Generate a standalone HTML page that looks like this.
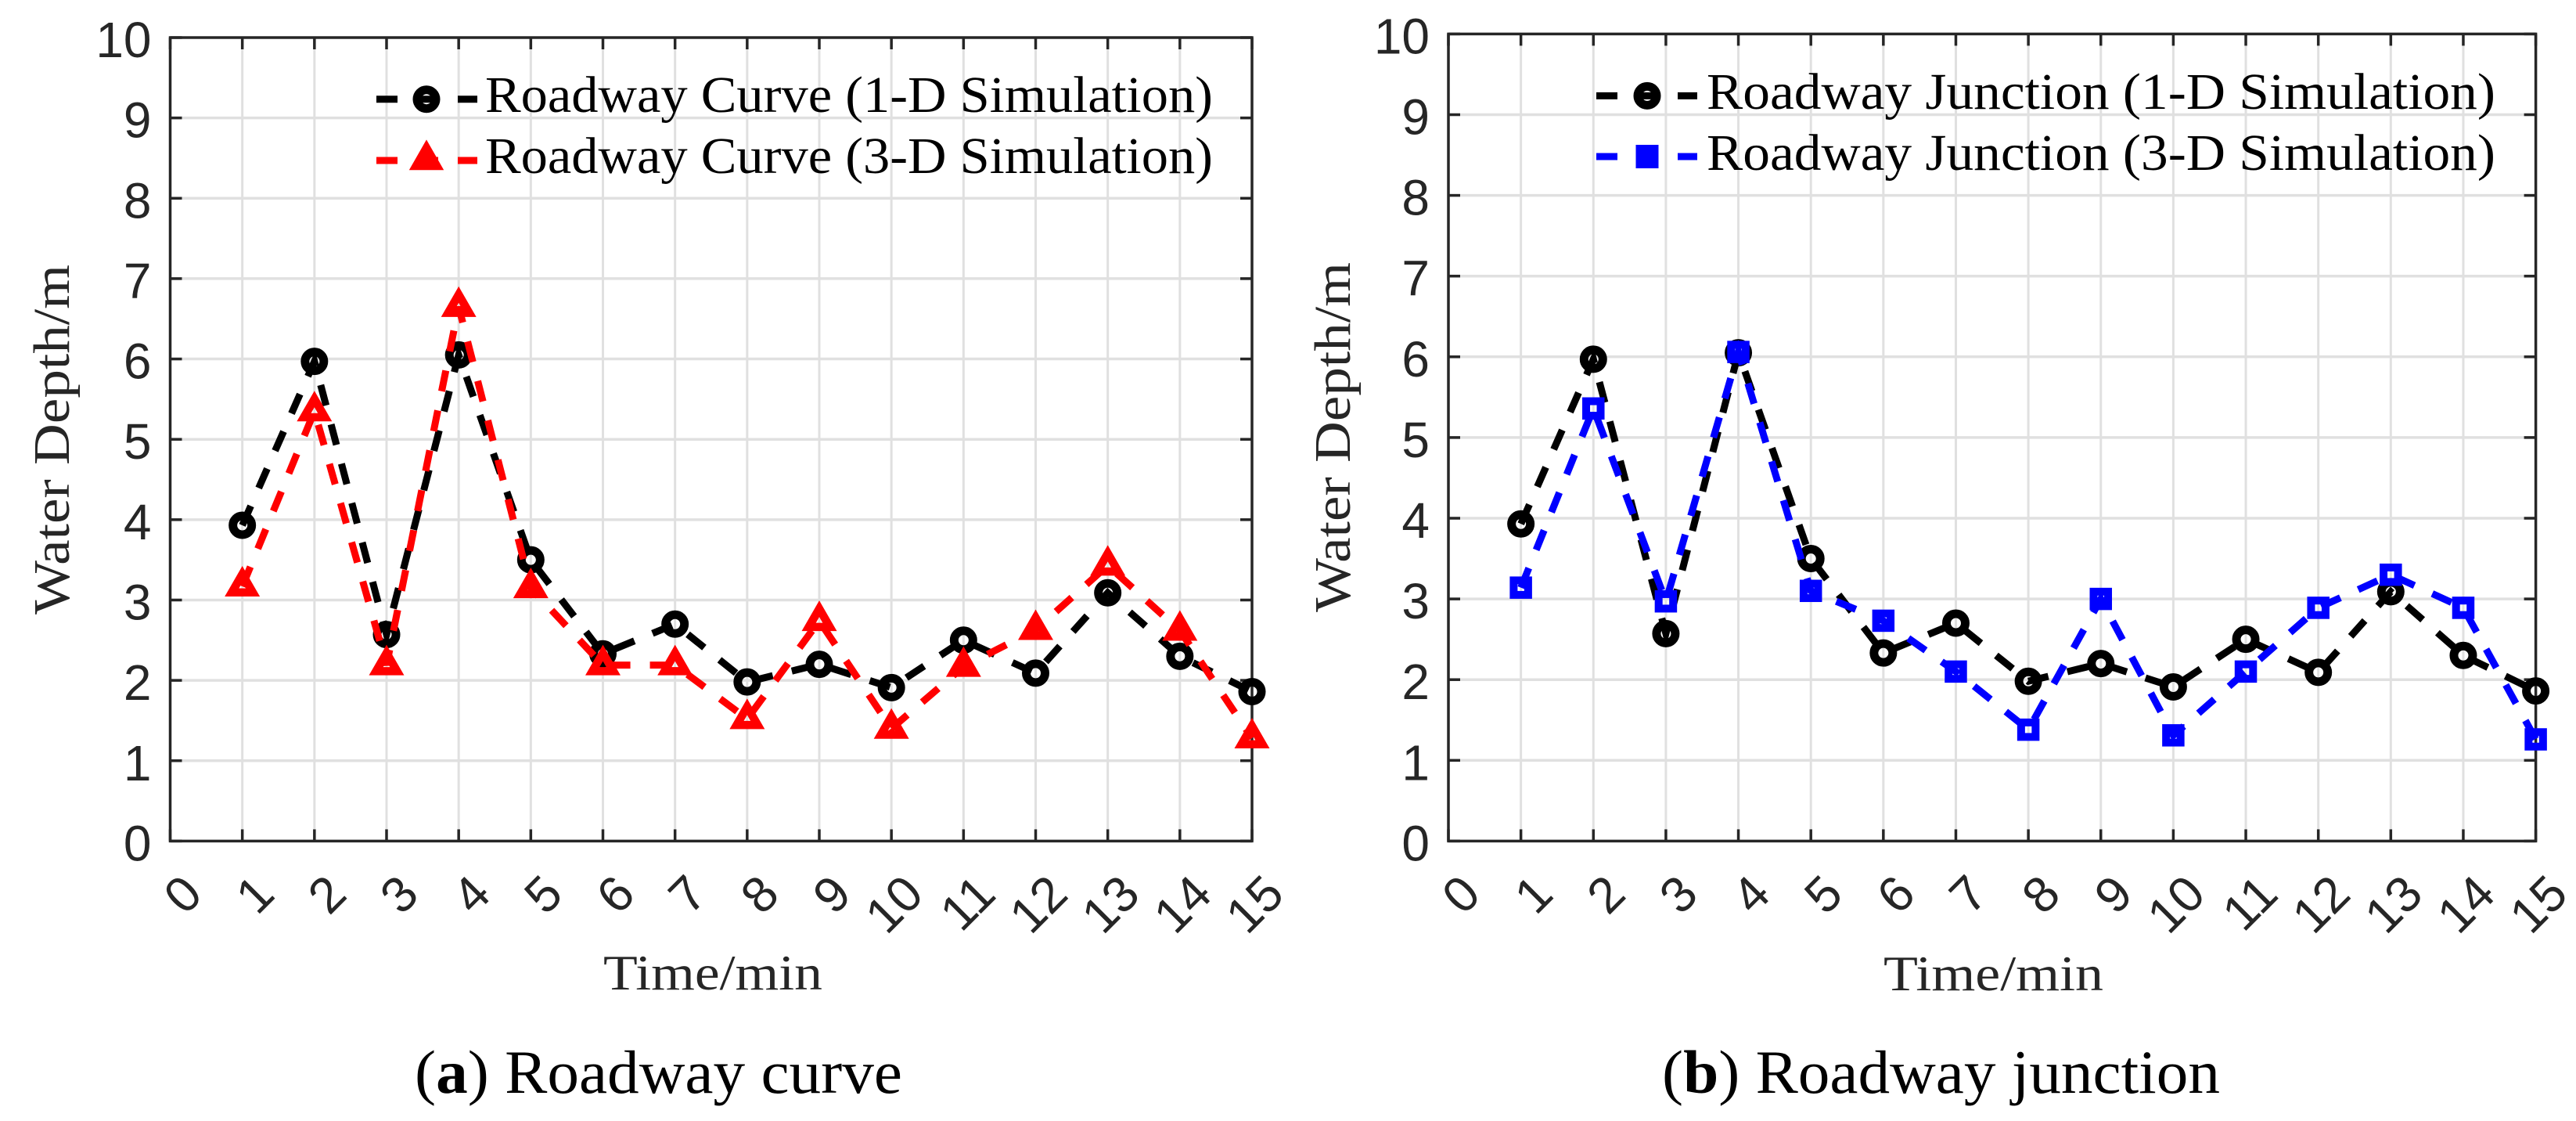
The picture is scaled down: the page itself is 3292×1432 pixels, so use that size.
<!DOCTYPE html>
<html lang="en">
<head>
<meta charset="utf-8">
<title>Water depth over time: roadway curve and roadway junction</title>
<style>
html,body{margin:0;padding:0;background:#fff;}
svg{display:block;}
.tick{font-family:"Liberation Sans",Arial,sans-serif;font-size:64px;fill:#262626;}
.lab{font-family:"Liberation Serif","Times New Roman",serif;fill:#262626;}
.leg{font-family:"Liberation Serif","Times New Roman",serif;font-size:66px;fill:#000;}
.cap{font-family:"Liberation Serif","Times New Roman",serif;font-size:78px;fill:#000;}
</style>
</head>
<body>
<svg id="fig" xmlns="http://www.w3.org/2000/svg" width="3292" height="1432" viewBox="0 0 3292 1432">
  <rect width="3292" height="1432" fill="#fff"/>
  <g id="panel-a"></g>
  <g id="panel-b"></g>

  <g>
    <g>
      <line x1="481" x2="610" y1="126.7" y2="126.7" stroke="#000" stroke-width="9" stroke-dasharray="27 25"/>
      <circle cx="545" cy="126.7" r="12" fill="none" stroke="#000" stroke-width="11"/>
      <text class="leg" x="620" y="143" textLength="930" lengthAdjust="spacingAndGlyphs">Roadway Curve (1-D Simulation)</text>
    </g>
    <g>
      <line x1="481" x2="610" y1="205" y2="205" stroke="#f00" stroke-width="9" stroke-dasharray="27 25"/>
      <polygon points="545,190 557.300,211.500 532.700,211.500" fill="none" stroke="#f00" stroke-width="11.500"/>
      <text class="leg" x="620" y="221" textLength="930" lengthAdjust="spacingAndGlyphs">Roadway Curve (3-D Simulation)</text>
    </g>
  </g>

  <g>
    <g>
      <line x1="2040" x2="2169" y1="122.400" y2="122.400" stroke="#000" stroke-width="9" stroke-dasharray="27 25"/>
      <circle cx="2105" cy="122.400" r="12" fill="none" stroke="#000" stroke-width="11"/>
      <text class="leg" x="2181" y="139" textLength="1008" lengthAdjust="spacingAndGlyphs">Roadway Junction (1-D Simulation)</text>
    </g>
    <g>
      <line x1="2040" x2="2169" y1="200" y2="200" stroke="#00f" stroke-width="9" stroke-dasharray="27 25"/>
      <rect x="2096.500" y="191" width="17" height="18" fill="none" stroke="#00f" stroke-width="12"/>
      <text class="leg" x="2181" y="217" textLength="1008" lengthAdjust="spacingAndGlyphs">Roadway Junction (3-D Simulation)</text>
    </g>
  </g>

  <text class="lab" font-size="66" transform="translate(88,785) rotate(-90)" textLength="447" lengthAdjust="spacingAndGlyphs">Water Depth/m</text>
  <text class="lab" font-size="66" transform="translate(1725,782) rotate(-90)" textLength="447" lengthAdjust="spacingAndGlyphs">Water Depth/m</text>
  <text class="lab" font-size="64" x="771" y="1264" textLength="280" lengthAdjust="spacingAndGlyphs">Time/min</text>
  <text class="lab" font-size="64" x="2407" y="1265" textLength="281" lengthAdjust="spacingAndGlyphs">Time/min</text>
  <text class="cap" x="530" y="1396" textLength="623" lengthAdjust="spacingAndGlyphs">(<tspan font-weight="bold">a</tspan>) Roadway curve</text>
  <text class="cap" x="2124" y="1396" textLength="713" lengthAdjust="spacingAndGlyphs">(<tspan font-weight="bold">b</tspan>) Roadway junction</text>
</svg>
<script>
// Chart data
const xTickLabels = ["0","1","2","3","4","5","6","7","8","9","10","11","12","13","14","15"];
const yTickLabels = ["0","1","2","3","4","5","6","7","8","9","10"];
const times = [1,2,3,4,5,6,7,8,9,10,11,12,13,14,15];
const depth1D = [3.93,5.97,2.57,6.05,3.50,2.33,2.70,1.98,2.20,1.91,2.50,2.09,3.09,2.30,1.86];
const curve3D = [3.17,5.35,2.19,6.65,3.15,2.19,2.19,1.52,2.74,1.40,2.17,2.63,3.43,2.62,1.28];
const junction3D = [3.14,5.36,2.97,6.06,3.10,2.73,2.10,1.38,3.00,1.31,2.10,2.89,3.30,2.89,1.26];

const NS = "http://www.w3.org/2000/svg";
function make(tag, attrs, parent) {
  const node = document.createElementNS(NS, tag);
  for (const key in attrs) node.setAttribute(key, attrs[key]);
  parent.appendChild(node);
  return node;
}

function drawPanel(parent, box, series3D, color, markerType, prefix) {
  const xMin = Number(xTickLabels[0]);
  const xMax = Number(xTickLabels[xTickLabels.length - 1]);
  const yMin = Number(yTickLabels[0]);
  const yMax = Number(yTickLabels[yTickLabels.length - 1]);
  const xScale = v => box.left + (v - xMin) / (xMax - xMin) * (box.right - box.left);
  const yScale = v => box.bottom - (v - yMin) / (yMax - yMin) * (box.bottom - box.top);
  const axisColor = "#262626";

  const grid = make("g", {}, parent);
  
  
  xTickLabels.forEach(function (label) {
    const v = Number(label);
    if (v === xMin || v === xMax) return;
    const line = make("line", {x1: xScale(v), x2: xScale(v), y1: box.top, y2: box.bottom, stroke: "#e0e0e0", "stroke-width": 3}, grid);
    
    
  });
  yTickLabels.forEach(function (label) {
    const v = Number(label);
    if (v === yMin || v === yMax) return;
    const line = make("line", {x1: box.left, x2: box.right, y1: yScale(v), y2: yScale(v), stroke: "#e0e0e0", "stroke-width": 3.5}, grid);
    
    
  });

  const ticks = make("g", {stroke: axisColor, "stroke-width": 3.5}, parent);
  
  
  xTickLabels.forEach(function (label) {
    const x = xScale(Number(label));
    const bottomTick = make("line", {x1: x, x2: x, y1: box.bottom, y2: box.bottom - 15}, ticks);
    
    
    const topTick = make("line", {x1: x, x2: x, y1: box.top, y2: box.top + 15}, ticks);
    
    
    const text = make("text", {"class": "tick", "text-anchor": "end", stroke: "none",
      transform: "translate(" + (x + 44) + "," + (box.bottom + 71) + ") rotate(-45)"}, parent);
    
    
    text.textContent = label;
  });
  yTickLabels.forEach(function (label) {
    const y = yScale(Number(label));
    const leftTick = make("line", {x1: box.left, x2: box.left + 15, y1: y, y2: y}, ticks);
    
    
    const rightTick = make("line", {x1: box.right, x2: box.right - 15, y1: y, y2: y}, ticks);
    
    
    const text = make("text", {"class": "tick", "text-anchor": "end", x: box.left - 24, y: y + 25}, parent);
    
    
    text.textContent = label;
  });

  const frame = make("rect", {x: box.left, y: box.top, width: box.right - box.left, height: box.bottom - box.top,
    fill: "none", stroke: axisColor, "stroke-width": 3.5}, parent);
  
  

  function drawSeries(values, stroke, type, name) {
    const group = make("g", {}, parent);
    
    
    const pts = values.map((v, i) => xScale(times[i]) + "," + yScale(v)).join(" ");
    const line = make("polyline", {points: pts, fill: "none", stroke: stroke, "stroke-width": 9,
      "stroke-dasharray": "27 25", "stroke-linejoin": "miter"}, group);
    
    
    values.forEach(function (v, i) {
      const cx = xScale(times[i]);
      const cy = yScale(v);
      let mark;
      if (type === "circle") {
        mark = make("circle", {cx: cx, cy: cy, r: 12, fill: "none", stroke: stroke, "stroke-width": 11}, group);
      } else if (type === "triangle") {
        mark = make("polygon", {points: cx + "," + (cy - 15.5) + " " + (cx + 13.4) + "," + (cy + 7.75) + " " + (cx - 13.4) + "," + (cy + 7.75),
          fill: "none", stroke: stroke, "stroke-width": 10.5}, group);
      } else {
        mark = make("rect", {x: cx - 9.25, y: cy - 9.25, width: 18.5, height: 18.5, fill: "none", stroke: stroke, "stroke-width": 10}, group);
      }
      
      
    });
  }
  drawSeries(depth1D, "#000", "circle", prefix + "-1d");
  drawSeries(series3D, color, markerType, prefix + "-3d");
}

drawPanel(document.getElementById("panel-a"), {left: 217.5, right: 1600, top: 48, bottom: 1074.4}, curve3D, "#f00", "triangle", "curve");
drawPanel(document.getElementById("panel-b"), {left: 1851, right: 3240.6, top: 43.4, bottom: 1074.4}, junction3D, "#00f", "square", "junction");
</script>
</body>
</html>
